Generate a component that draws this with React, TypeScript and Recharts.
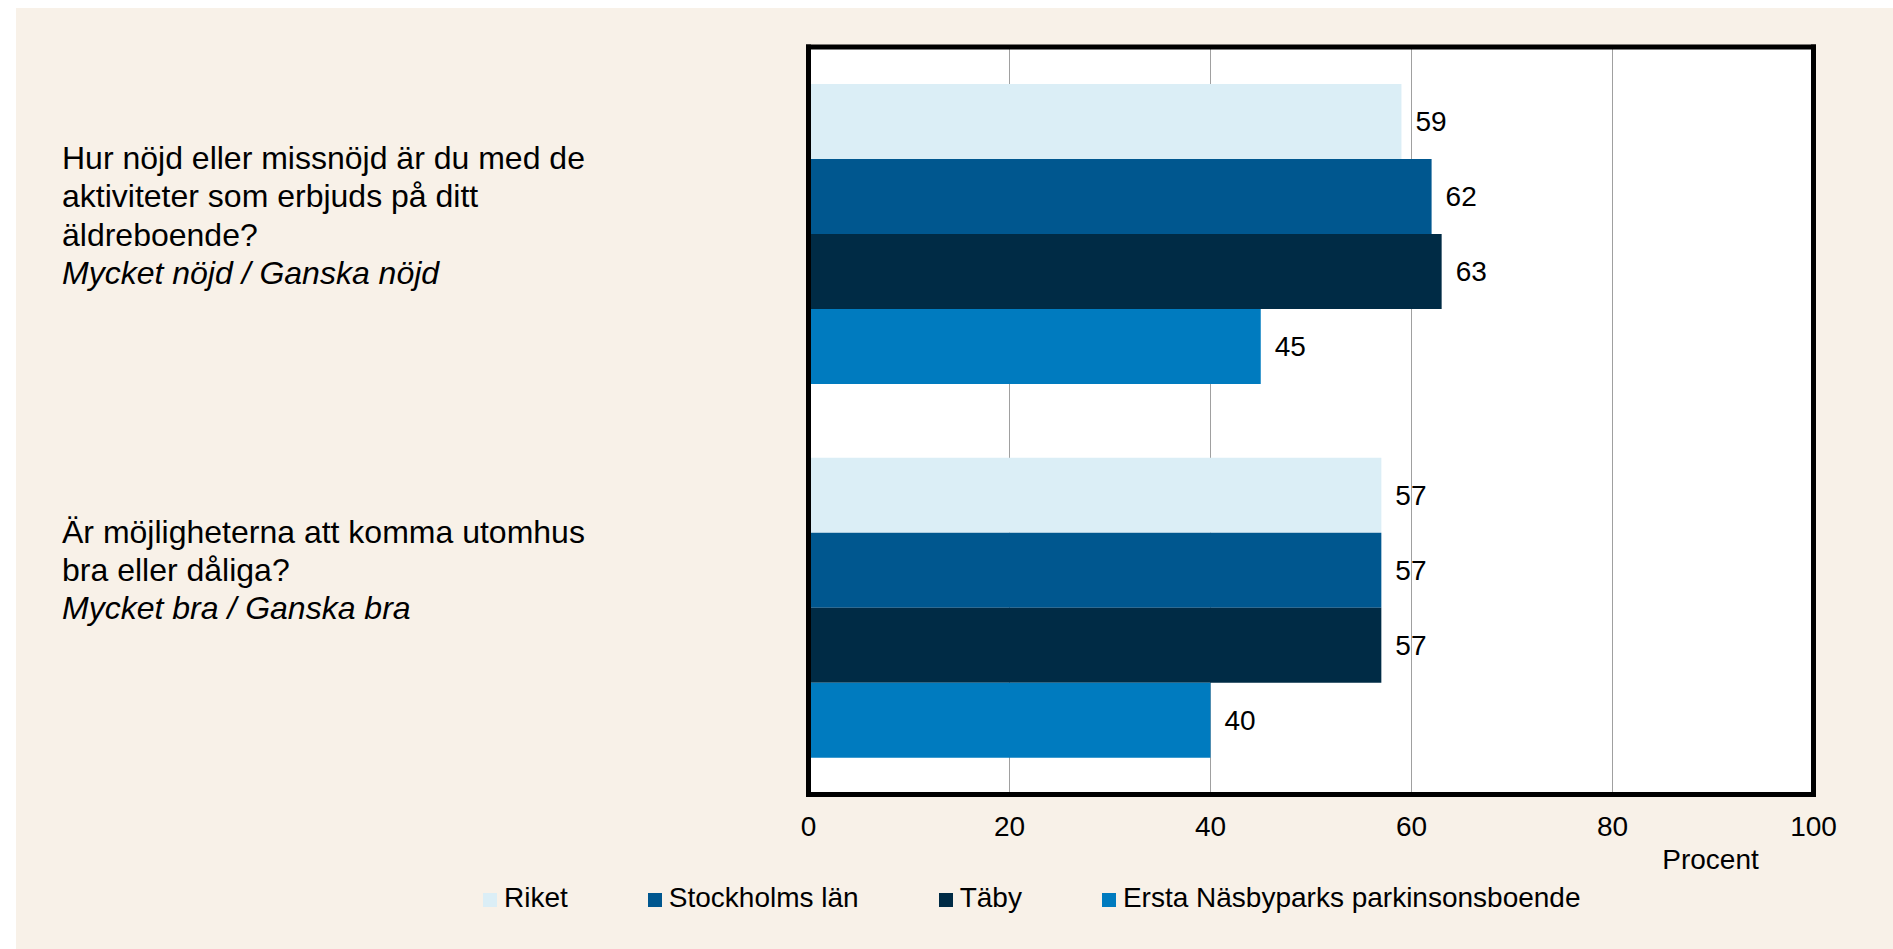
import React from 'react';
import { BarChart, Bar, XAxis, YAxis, CartesianGrid, LabelList, Legend, Label } from 'recharts';

const questionLines: string[][] = [
  ['Hur nöjd eller missnöjd är du med de', 'aktiviteter som erbjuds på ditt', 'äldreboende?'],
  ['Är möjligheterna att komma utomhus', 'bra eller dåliga?'],
];
const answerLines: string[] = ['Mycket nöjd / Ganska nöjd', 'Mycket bra / Ganska bra'];
const categories: string[] = questionLines.map((l) => l.join(' '));

const seriesNames = ['Riket', 'Stockholms län', 'Täby', 'Ersta Näsbyparks parkinsonsboende'];
const riket = [59, 57];
const stockholm = [62, 57];
const taby = [63, 57];
const ersta = [45, 40];
const xTicks = [0, 20, 40, 60, 80, 100];
const xAxisTitle = 'Procent';

const colors = ['#DBEEF6', '#00578F', '#002B45', '#007BBF'];
const keys = ['riket', 'stockholm', 'taby', 'ersta'];

const data = categories.map((cat, i) => ({
  cat,
  riket: riket[i],
  stockholm: stockholm[i],
  taby: taby[i],
  ersta: ersta[i],
}));

const FONT = '"Liberation Sans", Arial, Helvetica, sans-serif';

const CategoryTick = (props: any) => {
  const { y, index } = props;
  const lines = questionLines[index] || [];
  const all = [...lines, answerLines[index]];
  return (
    <g>
      {all.map((t, i) => (
        <text
          key={i}
          x={46}
          y={y - 65 + i * 38.4}
          fontSize={32}
          fontFamily={FONT}
          fill="#000"
          fontStyle={i === all.length - 1 ? 'italic' : 'normal'}
          textAnchor="start"
        >
          {t}
        </text>
      ))}
    </g>
  );
};

const LegendContent = () => (
  <div style={{ display: 'flex', alignItems: 'center', fontFamily: FONT, fontSize: 28, color: '#000', whiteSpace: 'nowrap', lineHeight: '32px' }}>
    {seriesNames.map((n, i) => (
      <div key={n} style={{ display: 'flex', alignItems: 'center', marginRight: 80 }}>
        <span style={{ display: 'inline-block', width: 14, height: 14, background: colors[i], marginRight: 7, marginTop: 4 }} />
        <span>{n}</span>
      </div>
    ))}
  </div>
);

const ProcentLabel = (props: any) => {
  const vb = props.viewBox || {};
  return (
    <text x={vb.x + vb.width - 103} y={vb.y + 74.5} textAnchor="middle" fontSize={28} fontFamily={FONT} fill="#000">
      {xAxisTitle}
    </text>
  );
};

const border = { stroke: '#000', strokeWidth: 5, strokeLinecap: 'square' as const };

export default function App() {
  return (
    <div
      style={{
        position: 'fixed',
        left: 16,
        top: 8,
        width: 1877,
        height: 941,
        background: '#F8F1E8',
        overflow: 'hidden',
        fontFamily: FONT,
      }}
    >
      <BarChart
        width={1877}
        height={941}
        data={data}
        layout="vertical"
        margin={{ top: 39, right: 79.5, bottom: 94.5, left: 0 }}
        barSize={75}
        barGap={0}
        style={{ fontFamily: FONT }}
      >
        <CartesianGrid horizontal={false} vertical={true} stroke="#A0A0A0" fill="#FFFFFF" />
        <XAxis
          type="number"
          domain={[0, 100]}
          ticks={xTicks}
          interval={0}
          height={60}
          tickLine={false}
          tickSize={6}
          tickMargin={16}
          axisLine={border}
          tick={{ fontSize: 28, fill: '#000', fontFamily: FONT }}
        >
          <Label content={ProcentLabel} />
        </XAxis>
        <YAxis
          type="category"
          dataKey="cat"
          width={792.5}
          tickLine={false}
          axisLine={border}
          tick={<CategoryTick />}
          interval={0}
        />
        <Legend
          layout="vertical"
          align="center"
          verticalAlign="bottom"
          content={<LegendContent />}
          wrapperStyle={{ left: 467, top: 874, width: 'auto', height: 0, overflow: 'visible' }}
        />
        {keys.map((k, i) => (
          <Bar key={k} dataKey={k} name={seriesNames[i]} fill={colors[i]} isAnimationActive={false}>
            <LabelList dataKey={k} position="right" offset={14} fontSize={28} fill="#000" fontFamily={FONT} />
          </Bar>
        ))}
        <CartesianGrid
          stroke="#000"
          strokeWidth={5}
          strokeLinecap="square"
          fill="none"
          horizontalCoordinatesGenerator={(p: any) => [p.offset.top]}
          verticalCoordinatesGenerator={(p: any) => [p.offset.left + p.offset.width]}
        />
      </BarChart>
    </div>
  );
}
